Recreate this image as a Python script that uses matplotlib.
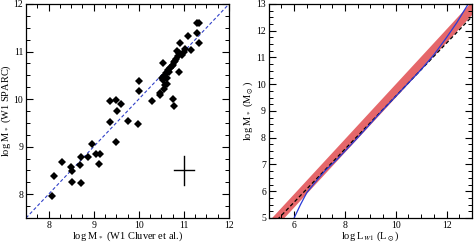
import matplotlib
matplotlib.use("Agg")
import matplotlib.pyplot as plt
from matplotlib.ticker import MultipleLocator

plt.rcParams['font.family'] = ['Liberation Serif', 'DejaVu Serif']
plt.rcParams['mathtext.fontset'] = 'stix'

# left panel: W1 masses, Cluver et al. vs SPARC
m_cluver = [8.08, 8.13, 8.29, 8.50, 8.52, 8.53, 8.70, 8.72, 8.72, 8.87,
            8.97, 9.06, 9.13, 9.12, 9.36, 9.36, 9.50, 9.61, 9.52, 9.50,
            9.76, 9.99, 10.00, 10.01, 10.30, 10.47, 10.48, 10.54, 10.75, 10.79,
            10.90, 10.51, 10.53, 10.55, 10.58, 10.60, 10.62, 10.65, 10.68, 10.70,
            10.73, 10.76, 10.78, 10.80, 10.83, 10.86, 10.88, 10.85, 10.92, 10.95,
            11.00, 11.03, 11.16, 11.10, 11.28, 11.33, 11.28, 11.33, 10.63, 10.56]
m_sparc = [7.96, 8.39, 8.67, 8.57, 8.49, 8.25, 8.62, 8.79, 8.24, 8.79,
           9.05, 8.84, 8.85, 8.63, 9.97, 9.51, 9.99, 9.90, 9.76, 9.10,
           9.53, 9.47, 10.38, 10.18, 9.96, 10.13, 10.08, 10.75, 10.01, 9.86,
           10.57, 10.45, 10.40, 10.49, 10.30, 10.55, 10.45, 10.62, 10.58, 10.66,
           10.70, 10.72, 10.77, 10.80, 10.84, 10.90, 10.97, 11.01, 11.17, 10.93,
           10.98, 11.05, 11.03, 11.33, 11.61, 11.59, 11.40, 11.19, 10.31, 10.22]
one_to_one = [7.5, 12.0]
err_center = (11.0, 8.5)
err_x = 0.23
err_y = 0.3

# right panel: mass vs W1 luminosity
band_x = [5.0, 13.0]
band_lo = [4.40, 12.62]
band_hi = [4.90, 13.12]
dash_x = [5.0, 13.0]
dash_y = [4.60, 12.53]
blue_x = [6.0, 6.25, 6.5, 6.8, 7.2, 7.7, 8.5, 9.5, 10.5, 11.0, 11.5, 12.0, 12.4, 12.85]
blue_y = [5.0, 5.5, 5.95, 6.3, 6.75, 7.2, 8.0, 9.05, 10.05, 10.55, 11.1, 11.75, 12.3, 13.0]

fig = plt.figure(figsize=(4.74, 2.43), dpi=100)
ax1 = fig.add_axes([0.0549, 0.1029, 0.4283, 0.8807])
ax2 = fig.add_axes([0.5669, 0.1029, 0.4289, 0.8807])

ax1.plot(one_to_one, one_to_one, color='#3040c8', lw=0.8, ls=(0, (3, 2)))
ax1.plot(m_cluver, m_sparc, 'D', color='black', ms=4, mew=0)
ax1.plot([err_center[0] - err_x, err_center[0] + err_x], [err_center[1]] * 2, color='black', lw=1)
ax1.plot([err_center[0]] * 2, [err_center[1] - err_y, err_center[1] + err_y], color='black', lw=1)
ax1.set_xlim(7.5, 12)
ax1.set_ylim(7.5, 12)
ax1.xaxis.set_major_locator(MultipleLocator(1))
ax1.xaxis.set_minor_locator(MultipleLocator(0.25))
ax1.yaxis.set_major_locator(MultipleLocator(1))
ax1.yaxis.set_minor_locator(MultipleLocator(0.25))
ax1.set_xlabel(r'log M$_*$ (W1 Cluver et al.)', fontsize=7.5, labelpad=0)
ax1.set_ylabel(r'log M$_*$ (W1 SPARC)', fontsize=7.5, labelpad=0)

ax2.fill_between(band_x, band_lo, band_hi, color='#e5676a', lw=0)
ax2.plot(dash_x, dash_y, color='black', lw=0.9, ls=(0, (3, 2)))
ax2.plot(blue_x, blue_y, color='#2a3bd6', lw=0.9)
ax2.set_xlim(5, 13)
ax2.set_ylim(5, 13)
ax2.xaxis.set_major_locator(MultipleLocator(2))
ax2.xaxis.set_minor_locator(MultipleLocator(0.5))
ax2.yaxis.set_major_locator(MultipleLocator(1))
ax2.yaxis.set_minor_locator(MultipleLocator(0.25))
ax2.set_xlabel(r'log L$_{W1}$ (L$_\odot$)', fontsize=7.5, labelpad=0)
ax2.set_ylabel(r'log M$_*$ (M$_\odot$)', fontsize=7.5, labelpad=1)

for ax in (ax1, ax2):
    ax.tick_params(which='both', direction='in', top=True, right=True, labelsize=7, pad=2)
    ax.tick_params(which='major', length=5, width=0.8)
    ax.tick_params(which='minor', length=3, width=0.7)
    for s in ax.spines.values():
        s.set_linewidth(0.9)

fig.savefig('out.png', dpi=100)
